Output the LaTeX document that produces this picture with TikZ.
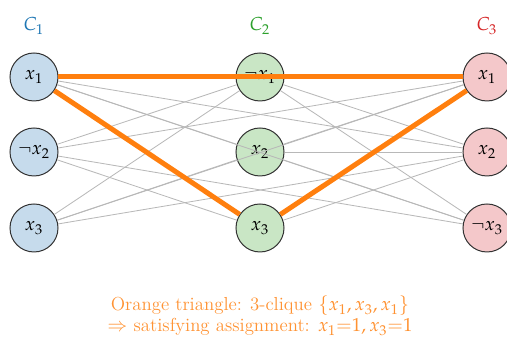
\documentclass[tikz,border=0pt]{standalone}
\usepackage{mathpazo}
\definecolor{cblue}{HTML}{1F77B4}
\definecolor{cgreen}{HTML}{2CA02C}
\definecolor{cred}{HTML}{D62728}
\definecolor{corange}{HTML}{FF7F0E}
\definecolor{fblue}{HTML}{C6DBEC}
\definecolor{fgreen}{HTML}{C9E6C5}
\definecolor{fred}{HTML}{F4C8CA}
\tikzset{
  lit/.style={circle, draw=black!80, line width=0.6pt, minimum size=28.8pt, inner sep=0pt},
  gedge/.style={draw=black!28, line width=0.5pt},
  oedge/.style={draw=corange, line width=3pt},
}
\begin{document}
\begin{tikzpicture}[x=0.6pt,y=-0.6pt, every node/.style={font=\fontsize{11.3}{12.6}\selectfont}]
\useasboundingbox (0,0) rectangle (507,338);
\node[text=cblue] (c1) at (34,26) {$C_1$};
\node[text=cgreen] (c2) at (260,26) {$C_2$};
\node[text=cred] (c3) at (487,26) {$C_3$};
\node[lit, fill=fblue] (a1) at (34,77) {$x_1$};
\node[lit, fill=fblue] (a2) at (34,152) {$\neg x_2$};
\node[lit, fill=fblue] (a3) at (34,228) {$x_3$};
\node[lit, fill=fgreen] (b1) at (260,77) {$\neg x_1$};
\node[lit, fill=fgreen] (b2) at (260,152) {$x_2$};
\node[lit, fill=fgreen] (b3) at (260,228) {$x_3$};
\node[lit, fill=fred] (d1) at (487,77) {$x_1$};
\node[lit, fill=fred] (d2) at (487,152) {$x_2$};
\node[lit, fill=fred] (d3) at (487,228) {$\neg x_3$};
% gray edges
\foreach \u/\v in {a1/b2, a2/b1, a2/b3, a3/b1, a3/b2,
                   b1/d2, b1/d3, b2/d1, b2/d2, b2/d3, b3/d2,
                   a1/d2, a1/d3, a2/d1, a2/d3, a3/d1, a3/d2}
  \draw[gedge] (\u) -- (\v);
% orange triangle
\draw[oedge] (a1) -- (b3);
\draw[oedge] (b3) -- (d1);
\draw[oedge] (a1) -- (d1);
\node[text=corange!85, align=center, inner sep=0pt] (cap) at (260,316)
  {Orange triangle: 3-clique $\{x_1, x_3, x_1\}$\\
   $\Rightarrow$ satisfying assignment: $x_1{=}1, x_3{=}1$};
\end{tikzpicture}
\end{document}
